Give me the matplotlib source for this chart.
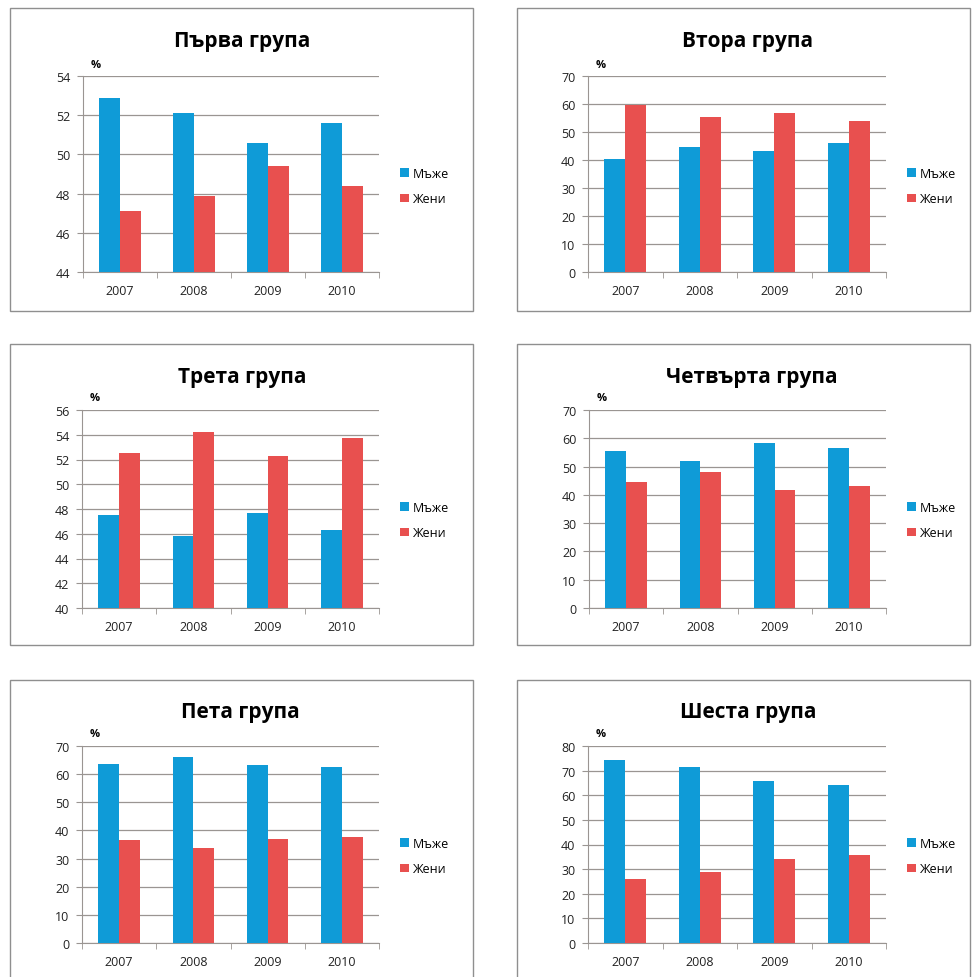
import matplotlib.pyplot as plt
import numpy as np
from matplotlib.patches import Rectangle

plt.rcParams['font.family'] = ['Open Sans', 'DejaVu Sans']

years = ['2007', '2008', '2009', '2010']
series_names = ['Мъже', 'Жени']
titles = ['Първа група', 'Втора група', 'Трета група',
          'Четвърта група', 'Пета група', 'Шеста група']

men_g1 = [52.9, 52.1, 50.6, 51.6]
women_g1 = [47.1, 47.9, 49.4, 48.4]
men_g2 = [40.4, 44.6, 43.3, 46.2]
women_g2 = [59.6, 55.4, 56.7, 53.8]
men_g3 = [47.5, 45.8, 47.7, 46.3]
women_g3 = [52.5, 54.2, 52.3, 53.7]
men_g4 = [55.5, 52.0, 58.2, 56.7]
women_g4 = [44.5, 48.0, 41.8, 43.3]
men_g5 = [63.5, 66.2, 63.2, 62.4]
women_g5 = [36.5, 33.8, 36.8, 37.6]
men_g6 = [74.2, 71.3, 65.9, 64.3]
women_g6 = [25.8, 28.7, 34.1, 35.7]

# y axis ranges (min, max, step)
y_ranges = [(44, 54, 2), (0, 70, 10), (40, 56, 2),
            (0, 70, 10), (0, 70, 10), (0, 80, 10)]

BLUE = '#0f9bd7'
RED = '#e8504f'
GRID = '#9a9592'

W, H = 973, 978
fig = plt.figure(figsize=(W / 100, H / 100), dpi=100)


def fx(px):
    return px / W


def fy(py):
    return 1 - py / H


# panel frames (left, top, right, bottom) and plot areas in pixels
frames = [(10, 9, 473, 312), (517, 9, 970, 312),
          (10, 345, 473, 646), (517, 345, 970, 646),
          (10, 681, 473, 990), (517, 681, 970, 990)]
plot_areas = [(83, 77, 379, 273), (588, 77, 886, 273),
              (82, 411, 379, 609), (589, 411, 886, 609),
              (82, 747, 379, 944), (588, 747, 886, 944)]
title_pos = [(242, 42), (748, 42), (242, 377), (752, 377), (240, 713), (748, 713)]

data = [(men_g1, women_g1), (men_g2, women_g2), (men_g3, women_g3),
        (men_g4, women_g4), (men_g5, women_g5), (men_g6, women_g6)]

x = np.arange(len(years))
bw = 0.28

for i in range(6):
    l, t, r, b = frames[i]
    fig.patches.append(Rectangle((fx(l), fy(b)), fx(r - l), (b - t) / H, transform=fig.transFigure,
                                 fill=False, edgecolor='#8f8f8f', linewidth=1.0))

    x0, y0, x1, y1 = plot_areas[i]
    ax = fig.add_axes([fx(x0), fy(y1), fx(x1 - x0), (y1 - y0) / H])
    men, women = data[i]
    b1 = ax.bar(x - bw / 2, men, bw, color=BLUE, zorder=3)
    b2 = ax.bar(x + bw / 2, women, bw, color=RED, zorder=3)

    lo, hi, step = y_ranges[i]
    ax.set_ylim(lo, hi)
    ax.set_yticks(np.arange(lo, hi + step / 2, step))
    ax.set_xlim(-0.5, len(years) - 0.5)
    ax.set_xticks(x)
    ax.set_xticklabels(years)
    ax.set_xticks(np.arange(-0.5, len(years)), minor=True)
    ax.tick_params(axis='x', which='major', length=0, pad=9, labelsize=9, colors='#222222')
    ax.tick_params(axis='x', which='minor', length=4, color=GRID)
    ax.tick_params(axis='y', length=4, color=GRID, labelsize=9, labelcolor='#222222', pad=5)
    ax.grid(axis='y', color=GRID, linewidth=0.9, zorder=0)
    for s in ['top', 'right']:
        ax.spines[s].set_visible(False)
    ax.spines['left'].set_color(GRID)
    ax.spines['bottom'].set_color(GRID)
    ax.set_facecolor('none')

    tx, ty = title_pos[i]
    fig.text(fx(tx), fy(ty), titles[i], ha='center', va='center', fontsize=15, fontweight='bold')
    fig.text(fx(x0 + 13), fy(y0 - 12), '%', ha='center', va='center', fontsize=8, fontweight='bold')

    fig.legend([b1, b2], series_names, loc='center left',
               bbox_to_anchor=(fx(x1 + 21), fy(y0 + 110)), frameon=False, fontsize=9,
               handlelength=0.7, handleheight=0.7, handletextpad=0.3, labelspacing=1.0,
               borderpad=0, borderaxespad=0)

fig.savefig('out.png', dpi=100, facecolor='white')
